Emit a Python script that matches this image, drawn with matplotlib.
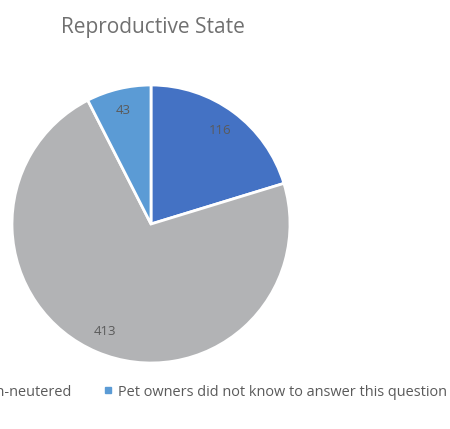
import matplotlib.pyplot as plt
from matplotlib.lines import Line2D

categories = ['Neutered', 'Non-neutered', 'Pet owners did not know to answer this question']
counts = [116, 413, 43]
colors = ['#4472C4', '#B2B3B5', '#5B9BD5']

plt.rcParams['font.family'] = ['Open Sans', 'DejaVu Sans']

fig = plt.figure(figsize=(4.5, 4.29), dpi=100)
ax = fig.add_axes([12 / 450, 66 / 429, 278 / 450, 278 / 429])

wedges, texts, autotexts = ax.pie(
    counts, colors=colors, startangle=90, counterclock=False, radius=1,
    autopct=lambda p: '{:.0f}'.format(p * sum(counts) / 100), pctdistance=0.84,
    wedgeprops=dict(edgecolor='white', linewidth=2),
    textprops=dict(color='#5a5a5a', fontsize=9.5))
ax.set_xlim(-1, 1)
ax.set_ylim(-1, 1)
ax.set_aspect('equal')
ax.axis('off')

fig.text(153 / 450, 1 - 28 / 429, 'Reproductive State', ha='center', va='center',
         fontsize=15, color='#707070')

# legend along the bottom, partly cut by the figure edge
handles = [Line2D([], [], marker='s', linestyle='none', color=c, markersize=5) for c in colors]
fig.legend(handles, categories, loc='center right', ncol=3, frameon=False,
           bbox_to_anchor=(460.5 / 450, 37 / 429), fontsize=10.45, handlelength=0.6,
           handletextpad=0.4, columnspacing=2.2, labelcolor='#5a5a5a')

fig.savefig('out.png', dpi=100)
